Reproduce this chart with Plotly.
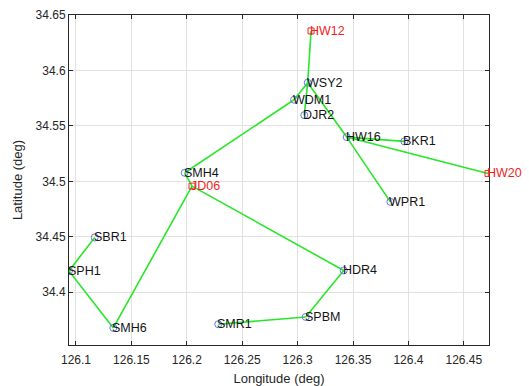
import plotly.graph_objects as go

names = ["HW12", "WSY2", "WDM1", "DJR2", "HW16", "BKR1", "HW20", "SMH4", "JD06",
         "WPR1", "HDR4", "SPBM", "SMR1", "SBR1", "SPH1", "SMH6"]
lons = [126.3121, 126.3091, 126.2968, 126.3060, 126.3443, 126.3963, 126.4718, 126.1981,
        126.2047, 126.3837, 126.3416, 126.3073, 126.2284, 126.1169, 126.0937, 126.1337]
lats = [34.6356, 34.5889, 34.5736, 34.5597, 34.5399, 34.5360, 34.5071, 34.5077,
        34.4957, 34.4815, 34.4196, 34.3777, 34.3711, 34.4494, 34.4192, 34.3678]
reference = ["HW12", "HW20", "JD06"]
edges = [("HW12", "WSY2"), ("WSY2", "WDM1"), ("WDM1", "SMH4"), ("WSY2", "DJR2"),
         ("WSY2", "HW16"), ("HW16", "BKR1"), ("HW16", "HW20"), ("HW16", "WPR1"),
         ("SMH4", "JD06"), ("JD06", "SMH6"), ("JD06", "HDR4"), ("HDR4", "SPBM"),
         ("SPBM", "SMR1"), ("SMH6", "SPH1"), ("SPH1", "SBR1")]
x_ticks = [126.1, 126.15, 126.2, 126.25, 126.3, 126.35, 126.4, 126.45]
y_ticks = [34.4, 34.45, 34.5, 34.55, 34.6, 34.65]

pos = {n: (lo, la) for n, lo, la in zip(names, lons, lats)}
fig = go.Figure()

ex, ey = [], []
for a, b in edges:
    ex += [pos[a][0], pos[b][0], None]
    ey += [pos[a][1], pos[b][1], None]
fig.add_trace(go.Scatter(x=ex, y=ey, mode="lines",
                         line=dict(color="rgb(40,230,40)", width=1.6),
                         hoverinfo="skip", showlegend=False))

blue = [n for n in names if n not in reference]
fig.add_trace(go.Scatter(x=[pos[n][0] for n in blue], y=[pos[n][1] for n in blue],
                         mode="markers",
                         marker=dict(symbol="circle-open", size=7, color="rgb(100,120,230)",
                                     line=dict(width=1)),
                         showlegend=False))
fig.add_trace(go.Scatter(x=[pos[n][0] for n in reference], y=[pos[n][1] for n in reference],
                         mode="markers",
                         marker=dict(symbol="square-open", size=6, color="rgb(240,40,40)",
                                     line=dict(width=1)),
                         showlegend=False))

for n in names:
    fig.add_annotation(x=pos[n][0], y=pos[n][1], text=n, showarrow=False,
                       xanchor="left", yanchor="middle", xshift=-3,
                       font=dict(family="Liberation Sans, Arial", size=12.5,
                                 color="rgb(240,30,30)" if n in reference else "rgb(20,20,20)"))

axis_common = dict(showgrid=True, gridcolor="rgb(225,225,225)", gridwidth=1,
                   showline=True, linecolor="rgb(38,38,38)", linewidth=1, mirror="ticks",
                   ticks="inside", ticklen=4, tickcolor="rgb(38,38,38)", zeroline=False,
                   automargin=False,
                   tickfont=dict(family="Liberation Sans, Arial", size=12, color="rgb(38,38,38)"))
fig.update_xaxes(range=[126.0937, 126.4727], tickvals=x_ticks,
                 ticktext=[f"{v:g}" for v in x_ticks], ticklabelstandoff=4,
                 title=dict(text="Longitude (deg)", standoff=8,
                            font=dict(family="Liberation Sans, Arial", size=13, color="rgb(38,38,38)")),
                 **axis_common)
fig.update_yaxes(range=[34.3524, 34.65], tickvals=y_ticks,
                 ticktext=[f"{v:g}" for v in y_ticks],
                 title=dict(text="Latitude (deg)", standoff=10,
                            font=dict(family="Liberation Sans, Arial", size=13, color="rgb(38,38,38)")),
                 **axis_common)
fig.update_layout(width=529, height=386, margin=dict(l=69, r=40, t=15, b=41),
                  plot_bgcolor="white", paper_bgcolor="white")
fig.write_html("out.html", config={"displayModeBar": False},
               post_script="document.body.style.margin='0';document.body.style.overflow='hidden';")
